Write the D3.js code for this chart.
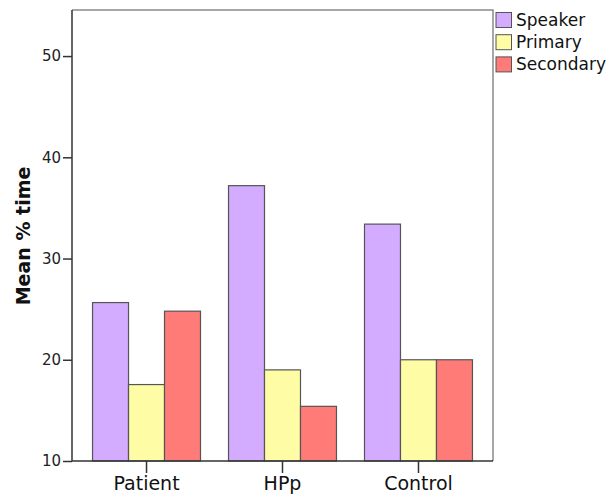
<!DOCTYPE html>
<html><head><meta charset="utf-8">
<script src="https://cdn.jsdelivr.net/npm/d3@7"></script>
<style>body{margin:0;background:#fff}svg{display:block}</style>
</head><body>
<script>
const categories = ["Patient", "HPp", "Control"];
const seriesNames = ["Speaker", "Primary", "Secondary"];
const speaker = [25.65, 37.2, 33.4];
const primary = [17.55, 19.0, 20.0];
const secondary = [24.8, 15.4, 20.0];
const yTicks = [10, 20, 30, 40, 50];
const colors = ["#D3ABFF", "#FFFCA6", "#FF7B77"];
const values = [speaker, primary, secondary];

(function () {
const W = 610, H = 502;
const pL = 72, pR = 493, pT = 10, pB = 461;
const svg = d3.select("body").append("svg").attr("width", W).attr("height", H);

const x = d3.scaleBand().domain(categories).range([pL, pR]).paddingInner(0.206).paddingOuter(0.151);
const xs = d3.scaleBand().domain(seriesNames).range([0, x.bandwidth()]);
const y = d3.scaleLinear().domain([10, 54.55]).range([pB, pT]);

// frame
svg.append("path").attr("d", `M${pL},${pT}H${pR}V${pB}`)
  .attr("fill", "none").attr("stroke", "#8a8a8a").attr("stroke-width", 1.5);

// bars
categories.forEach((c, i) => {
  seriesNames.forEach((s, j) => {
    svg.append("rect")
      .attr("x", x(c) + xs(s))
      .attr("y", y(values[j][i]))
      .attr("width", xs.bandwidth())
      .attr("height", y(10) - y(values[j][i]))
      .attr("fill", colors[j])
      .attr("stroke", "#555").attr("stroke-width", 1.2);
  });
});

// y axis
const ya = svg.append("g").attr("transform", `translate(${pL},0)`)
  .call(d3.axisLeft(y).tickValues(yTicks).tickSize(9).tickPadding(2).tickSizeOuter(0));
ya.select(".domain").attr("d", `M0,${pT}V${pB}`).attr("stroke", "#333").attr("stroke-width", 1.5);
ya.selectAll(".tick line").attr("stroke", "#333").attr("stroke-width", 1.5);
ya.selectAll(".tick text").attr("font-family", "DejaVu Sans").attr("font-size", 15).attr("fill", "#222");

// x axis
const xa = svg.append("g").attr("transform", `translate(0,${pB})`)
  .call(d3.axisBottom(x).tickSize(12).tickPadding(4).tickSizeOuter(0));
xa.select(".domain").attr("d", `M${pL},0H${pR}`).attr("stroke", "#333").attr("stroke-width", 1.5);
xa.selectAll(".tick line").attr("stroke", "#333").attr("stroke-width", 1.5);
xa.selectAll(".tick text").attr("font-family", "DejaVu Sans").attr("font-size", 19).attr("fill", "#111");

// y title
svg.append("text").attr("transform", `translate(30,${236}) rotate(-90)`)
  .attr("text-anchor", "middle").attr("font-family", "DejaVu Sans").attr("font-weight", "bold")
  .attr("font-size", 19).attr("fill", "#111").text("Mean % time");

// legend
const lg = svg.append("g");
seriesNames.forEach((s, j) => {
  const yy = 12.5 + j * 22.2;
  lg.append("rect").attr("x", 496).attr("y", yy).attr("width", 15.5).attr("height", 15)
    .attr("fill", colors[j]).attr("stroke", "#555").attr("stroke-width", 1);
  lg.append("text").attr("x", 516).attr("y", yy + 13.5)
    .attr("font-family", "DejaVu Sans").attr("font-size", 17).attr("fill", "#111").text(s);
});
})();
</script>
</body></html>
